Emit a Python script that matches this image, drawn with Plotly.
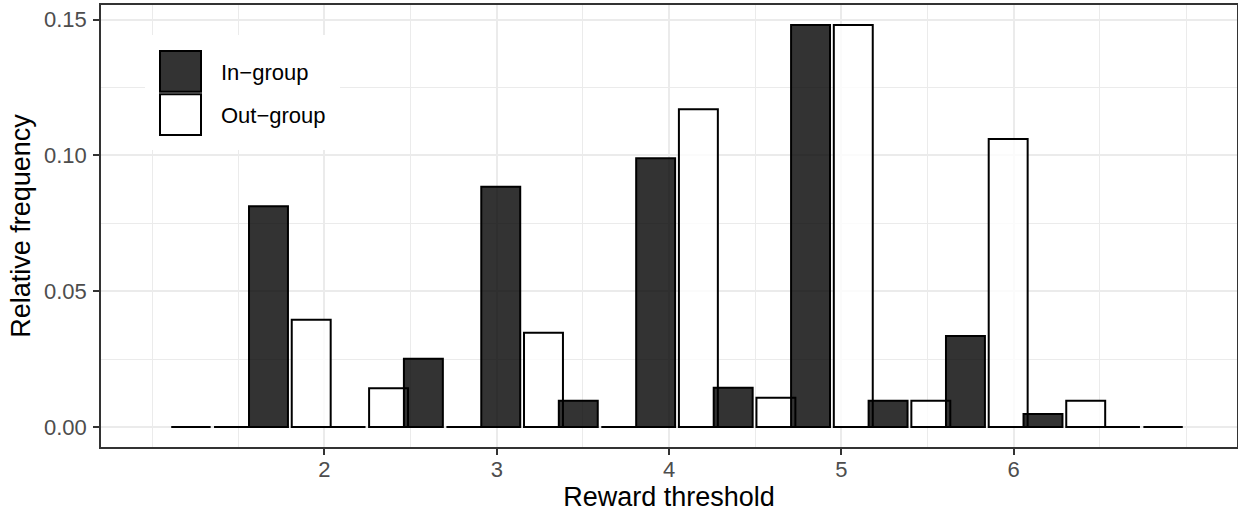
import plotly.graph_objects as go

# ---- data ----
bin_centers = [1.349, 1.799, 2.248, 2.698, 3.147, 3.597, 4.046,
               4.496, 4.945, 5.395, 5.844, 6.294, 6.743]
in_group = [0.0, 0.0813, 0.0, 0.0251, 0.0885, 0.0097, 0.0990,
            0.0145, 0.1480, 0.0097, 0.0335, 0.0048, 0.0]
out_group = [0.0, 0.0395, 0.0143, 0.0, 0.0347, 0.0, 0.1170,
             0.0108, 0.1480, 0.0097, 0.1061, 0.0097, 0.0]
series_names = ["In\u2212group", "Out\u2212group"]
x_ticks = [2, 3, 4, 5, 6]
y_ticks = [0.00, 0.05, 0.10, 0.15]

# ---- style ----
dodge = 0.124
bar_w = 0.226
dark_fill = "rgba(0,0,0,0.8)"
light_fill = "rgba(255,255,255,0.8)"
FONT = "Liberation Sans, Arial, Helvetica, sans-serif"

x_in = [c - dodge for c in bin_centers]
x_out = [c + dodge for c in bin_centers]

fig = go.Figure()
fig.add_trace(go.Bar(x=x_out, y=out_group, width=bar_w, name=series_names[1],
                     marker=dict(color=light_fill, line=dict(color="black", width=2)),
                     showlegend=False))
fig.add_trace(go.Bar(x=x_in, y=in_group, width=bar_w, name=series_names[0],
                     marker=dict(color=dark_fill, line=dict(color="black", width=2)),
                     showlegend=False))

# zero-height bars are drawn by ggplot as flat outlines
zx, zy = [], []
for xs, vals in ((x_out, out_group), (x_in, in_group)):
    for x, v in zip(xs, vals):
        if v == 0:
            zx += [x - bar_w / 2, x + bar_w / 2, None]
            zy += [v, v, None]
fig.add_trace(go.Scatter(x=zx, y=zy, mode="lines", line=dict(color="black", width=2),
                         showlegend=False, hoverinfo="skip"))

# ---- manual legend (ggplot-like large keys) ----
L, T, W, H = 101, 5, 1136, 442
def px(x):
    return (x - L) / W
def py(y):
    return (T + H - y) / H

shapes = [
    dict(type="rect", xref="paper", yref="paper", x0=px(145), x1=px(340), y0=py(150), y1=py(35),
         fillcolor="white", line=dict(width=0), layer="above"),
    dict(type="rect", xref="paper", yref="paper", x0=px(160), x1=px(201), y0=py(91.7), y1=py(51),
         fillcolor="#333333", line=dict(color="black", width=2), layer="above"),
    dict(type="rect", xref="paper", yref="paper", x0=px(160), x1=px(201), y0=py(135), y1=py(94.3),
         fillcolor="white", line=dict(color="black", width=2), layer="above"),
]
annotations = [
    dict(text=series_names[0], xref="paper", yref="paper", x=px(219), y=py(72.5),
         xanchor="left", yanchor="middle", showarrow=False, font=dict(size=22, color="black", family=FONT)),
    dict(text=series_names[1], xref="paper", yref="paper", x=px(219), y=py(115.5),
         xanchor="left", yanchor="middle", showarrow=False, font=dict(size=22, color="black", family=FONT)),
]

grid = "#EBEBEB"
fig.update_layout(
    width=1238, height=512,
    margin=dict(l=L, r=1238 - L - W, t=T, b=512 - T - H, autoexpand=False),
    paper_bgcolor="white", plot_bgcolor="white",
    barmode="overlay",
    font=dict(family=FONT),
    shapes=shapes, annotations=annotations,
    showlegend=False,
)
fig.update_xaxes(
    automargin=False,
    range=[0.703, 7.296], tickvals=x_ticks, ticktext=[str(t) for t in x_ticks],
    showgrid=True, gridcolor=grid, gridwidth=1.8, zeroline=False,
    minor=dict(dtick=0.5, tick0=0, showgrid=True, gridcolor=grid, gridwidth=0.9, ticks=""),
    showline=True, mirror=True, linecolor="#333333", linewidth=1.5,
    ticks="outside", ticklen=6, tickwidth=1.5, tickcolor="#333333",
    ticklabelstandoff=-4,
    tickfont=dict(size=22, color="#4D4D4D", family=FONT),
    title=dict(text="Reward threshold", font=dict(size=27, color="black", family=FONT), standoff=18),
)
fig.update_yaxes(
    automargin=False,
    range=[-0.00735, 0.1554], tickvals=y_ticks, tickformat=".2f",
    showgrid=True, gridcolor=grid, gridwidth=1.8, zeroline=False,
    minor=dict(dtick=0.025, tick0=0, showgrid=True, gridcolor=grid, gridwidth=0.9, ticks=""),
    showline=True, mirror=True, linecolor="#333333", linewidth=1.5,
    ticks="outside", ticklen=6, tickwidth=1.5, tickcolor="#333333",
    ticklabelstandoff=2,
    tickfont=dict(size=22, color="#4D4D4D", family=FONT),
    title=dict(text="Relative frequency", font=dict(size=27, color="black", family=FONT), standoff=6),
)

fig.write_html("out.html", config={"displayModeBar": False},
               post_script="document.body.style.margin='0';")
